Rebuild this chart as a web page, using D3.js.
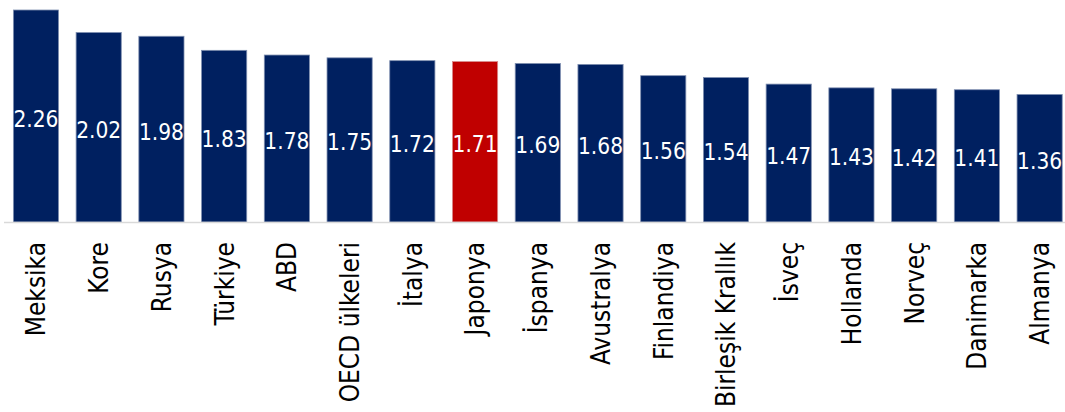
<!DOCTYPE html>
<html><head><meta charset="utf-8">
<script src="https://cdn.jsdelivr.net/npm/d3@7"></script>
<style>body{margin:0;background:#fff}svg{display:block}</style>
</head><body>
<svg id="c" width="1065" height="412"></svg>
<script>
const categories = ["Meksika","Kore","Rusya","Türkiye","ABD","OECD ülkeleri","İtalya","Japonya","İspanya","Avustralya","Finlandiya","Birleşik Krallık","İsveç","Hollanda","Norveç","Danimarka","Almanya"];
const values = [2.26,2.02,1.98,1.83,1.78,1.75,1.72,1.71,1.69,1.68,1.56,1.54,1.47,1.43,1.42,1.41,1.36];
const highlight = ["Japonya"];

const svg = d3.select("#c");
const font = "'DejaVu Sans Condensed','DejaVu Sans',sans-serif";
const x = d3.scaleBand().domain(categories).range([4.6, 1071]).paddingInner(0.28).paddingOuter(0.14);
const y = d3.scaleLinear().domain([0, 2.26]).range([222, 10]);

svg.append("g").selectAll("rect").data(values).join("rect")
  .attr("x", (d,i) => x(categories[i]))
  .attr("width", x.bandwidth())
  .attr("y", d => y(d))
  .attr("height", d => y(0) - y(d))
  .attr("fill", (d,i) => highlight.includes(categories[i]) ? "#C00000" : "#002060")
  .attr("stroke", (d,i) => highlight.includes(categories[i]) ? "#d88a8a" : "#7f8fb0")
  .attr("stroke-width", 0.8);

svg.append("line").attr("x1", 4).attr("x2", 1065).attr("y1", 222.5).attr("y2", 222.5)
  .attr("stroke", "#d9d9d9").attr("stroke-width", 1.5);

svg.append("g").selectAll("text").data(values).join("text")
  .attr("x", (d,i) => x(categories[i]) + x.bandwidth()/2)
  .attr("y", d => (y(d) + y(0))/2 + 2.5)
  .attr("text-anchor", "middle").attr("dominant-baseline", "central")
  .attr("fill", "#fff").attr("font-family", font).attr("font-size", 22.5)
  .text(d => d.toFixed(2));

const xAxis = d3.axisBottom(x).tickSize(0).tickPadding(0);
const gx = svg.append("g").attr("transform", "translate(0,222)").call(xAxis);
gx.select(".domain").remove();
gx.selectAll("text")
  .attr("font-family", font).attr("font-size", 26).attr("fill", "#000")
  .attr("text-anchor", "end")
  .attr("transform", "rotate(-90)")
  .attr("x", -20).attr("y", 0).attr("dy", "0.36em");
</script>
</body></html>
